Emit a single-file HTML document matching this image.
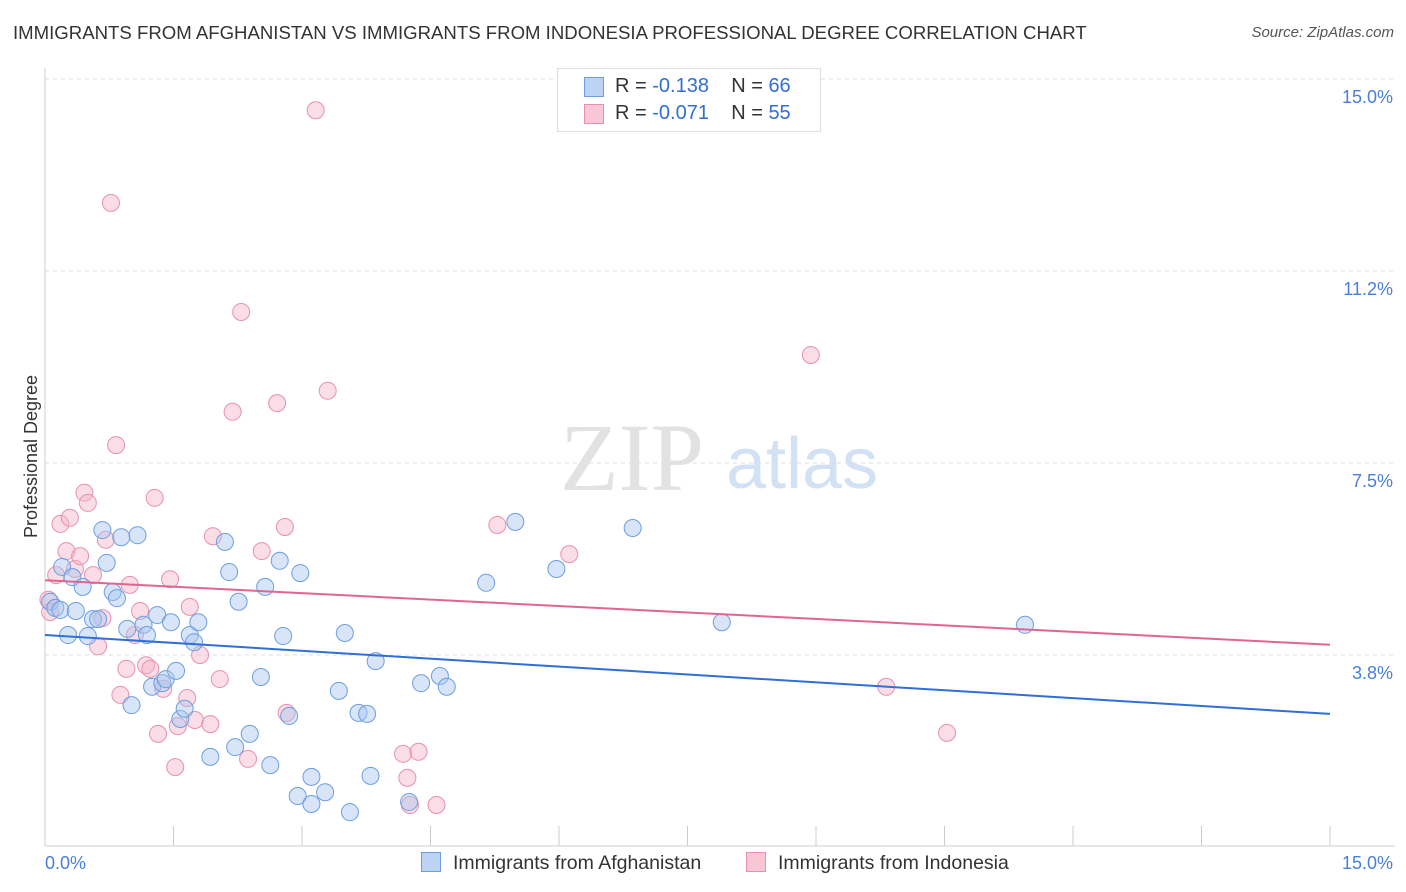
<!DOCTYPE html>
<html><head><meta charset="utf-8"><style>
body{margin:0;background:#fff;font-family:"Liberation Sans",sans-serif;}
#wrap{position:relative;width:1406px;height:892px;overflow:hidden;}
.t{position:absolute;white-space:nowrap;}
</style></head><body>
<div id="wrap">
<div class="t" style="left:13px;top:22px;font-size:18.6px;color:#333;">IMMIGRANTS FROM AFGHANISTAN VS IMMIGRANTS FROM INDONESIA PROFESSIONAL DEGREE CORRELATION CHART</div>
<div class="t" style="right:12px;top:24px;font-size:15px;color:#555;font-style:italic;">Source: ZipAtlas.com</div>
<svg id="svg" width="1406" height="892" style="position:absolute;left:0;top:0"></svg>
</div>
<script>
const yTicks=[3.8,7.5,11.2,15.0];
const blueX=[0.06,0.12,0.18,0.20,0.27,0.32,0.36,0.44,0.50,0.56,0.62,0.67,0.72,0.79,0.84,0.89,0.96,1.01,1.08,1.15,1.19,1.25,1.31,1.37,1.41,1.47,1.53,1.58,1.63,1.69,1.74,1.79,1.93,2.10,2.15,2.22,2.26,2.39,2.52,2.57,2.63,2.74,2.78,2.85,2.95,2.98,3.11,3.11,3.27,3.43,3.50,3.56,3.66,3.76,3.80,3.86,4.25,4.39,4.61,4.69,5.15,5.49,5.97,6.86,7.90,11.44];
const blueY=[4.79,4.67,4.63,5.47,4.14,5.27,4.61,5.08,4.12,4.45,4.45,6.19,5.55,4.98,4.86,6.05,4.26,2.77,6.09,4.34,4.14,3.13,4.53,3.20,3.28,4.39,3.44,2.50,2.70,4.14,4.00,4.39,1.76,5.96,5.37,1.95,4.79,2.21,3.32,5.08,1.60,5.59,4.12,2.56,0.996,5.35,1.37,0.84,1.07,3.05,4.18,0.68,2.62,2.60,1.39,3.63,0.88,3.20,3.34,3.13,5.16,6.35,5.43,6.23,4.39,4.34];
const pinkX=[0.04,0.06,0.13,0.18,0.25,0.29,0.35,0.41,0.46,0.50,0.56,0.62,0.67,0.71,0.77,0.83,0.88,0.95,0.99,1.05,1.11,1.18,1.23,1.28,1.32,1.38,1.46,1.52,1.55,1.66,1.69,1.75,1.81,1.93,1.96,2.04,2.19,2.29,2.37,2.53,2.71,2.80,2.82,3.16,3.30,4.18,4.23,4.26,4.36,4.57,5.28,6.12,8.94,9.82,10.53];
const pinkY=[4.83,4.59,5.31,6.31,5.78,6.43,5.43,5.68,6.92,6.72,5.31,3.92,4.47,6.00,12.58,7.85,2.97,3.48,5.12,4.14,4.61,3.55,3.48,6.82,2.21,3.09,5.23,1.56,2.36,2.91,4.69,2.48,3.75,2.40,6.07,3.28,8.50,10.45,1.72,5.78,8.67,6.25,2.62,14.39,8.91,1.82,1.35,0.82,1.86,0.82,6.29,5.72,9.61,3.13,2.23];
const blueLine=[4.14,2.60];
const pinkLine=[5.21,3.95];
const svg=document.getElementById('svg');const NS='http://www.w3.org/2000/svg';
const X0=45,X1=1330,Y0=847,PY=192/3.75;
const sx=v=>X0+v/15*(X1-X0), sy=v=>Y0-v*PY;
function mk(tag,a,parent){const e=document.createElementNS(NS,tag);for(const k in a)e.setAttribute(k,a[k]);(parent||svg).appendChild(e);return e;}
[3.75,7.5,11.25,15].forEach((v,i)=>{const l=mk('line',{x1:X0,x2:1395,y1:sy(v),y2:sy(v),stroke:'#ddd','stroke-dasharray':'4,4'});

const t=mk('text',{x:1393,y:sy(v)+24,'text-anchor':'end','font-size':18,fill:'#4a7fd8','font-family':'Liberation Sans'});t.textContent=yTicks[i].toFixed(1)+'%';
});
let a=mk('line',{x1:X0,x2:X0,y1:68,y2:846,stroke:'#ccc'});
a=mk('line',{x1:X0,x2:1395,y1:846,y2:846,stroke:'#ccc'});
for(let i=0;i<=10;i++){const t=mk('line',{x1:sx(i*1.5),x2:sx(i*1.5),y1:826,y2:846,stroke:'#ccc'});}
let w=mk('text',{x:632,y:490,'text-anchor':'middle','font-size':96,fill:'#e2e2e2','font-family':'Liberation Serif'});w.textContent='ZIP';
w=mk('text',{x:802,y:488,'text-anchor':'middle','font-size':72,fill:'#d3e1f5','font-family':'Liberation Sans'});w.textContent='atlas';
function pts(xs,ys,fill,stroke,name){xs.forEach((x,i)=>{const c=mk('circle',{cx:sx(x),cy:sy(ys[i]),r:8.5,fill:fill,'fill-opacity':0.45,stroke:stroke,'stroke-width':1});
});}
pts(pinkX,pinkY,'#f5b3c8','#e890ad','point-indonesia');
pts(blueX,blueY,'#a8c6ef','#6c9ee0','point-afghanistan');
let l=mk('line',{x1:sx(0),x2:sx(15),y1:sy(pinkLine[0]),y2:sy(pinkLine[1]),stroke:'#e0668f','stroke-width':2});
l=mk('line',{x1:sx(0),x2:sx(15),y1:sy(blueLine[0]),y2:sy(blueLine[1]),stroke:'#2f6fd6','stroke-width':2});
</script>
<div class="t" style="left:45px;top:853px;font-size:18px;color:#4a7fd8;">0.0%</div>
<div class="t" style="right:13px;top:853px;font-size:18px;color:#4a7fd8;">15.0%</div>
<div class="t" style="left:-50px;top:446px;font-size:18px;color:#333;transform:rotate(-90deg);">Professional Degree</div>
<div style="position:absolute;left:557px;top:68px;width:262px;height:62px;border:1px solid #ddd;background:#fff;font-size:20px;color:#333;">
 <div style="position:absolute;left:26px;top:8px;width:18px;height:18px;background:#bcd3f3;border:1px solid #6c9ee0;"></div>
 <div class="t" style="left:57px;top:6px;">R = <span style="color:#2f6fd6">-0.138</span>&nbsp;&nbsp;&nbsp;&nbsp;N = <span style="color:#2f6fd6">66</span></div>
 <div style="position:absolute;left:26px;top:35px;width:18px;height:18px;background:#f8c6d5;border:1px solid #e890ad;"></div>
 <div class="t" style="left:57px;top:33px;">R = <span style="color:#2f6fd6">-0.071</span>&nbsp;&nbsp;&nbsp;&nbsp;N = <span style="color:#2f6fd6">55</span></div>
</div>
<div style="position:absolute;left:421px;top:852px;font-size:19.5px;color:#333;">
 <span style="display:inline-block;width:18px;height:18px;background:#bcd3f3;border:1px solid #6c9ee0;vertical-align:-3px;margin-right:12px"></span>Immigrants from Afghanistan</div>
<div style="position:absolute;left:746px;top:852px;font-size:19.5px;color:#333;">
 <span style="display:inline-block;width:18px;height:18px;background:#f8c6d5;border:1px solid #e890ad;vertical-align:-3px;margin-right:12px"></span>Immigrants from Indonesia</div>
</body></html>
